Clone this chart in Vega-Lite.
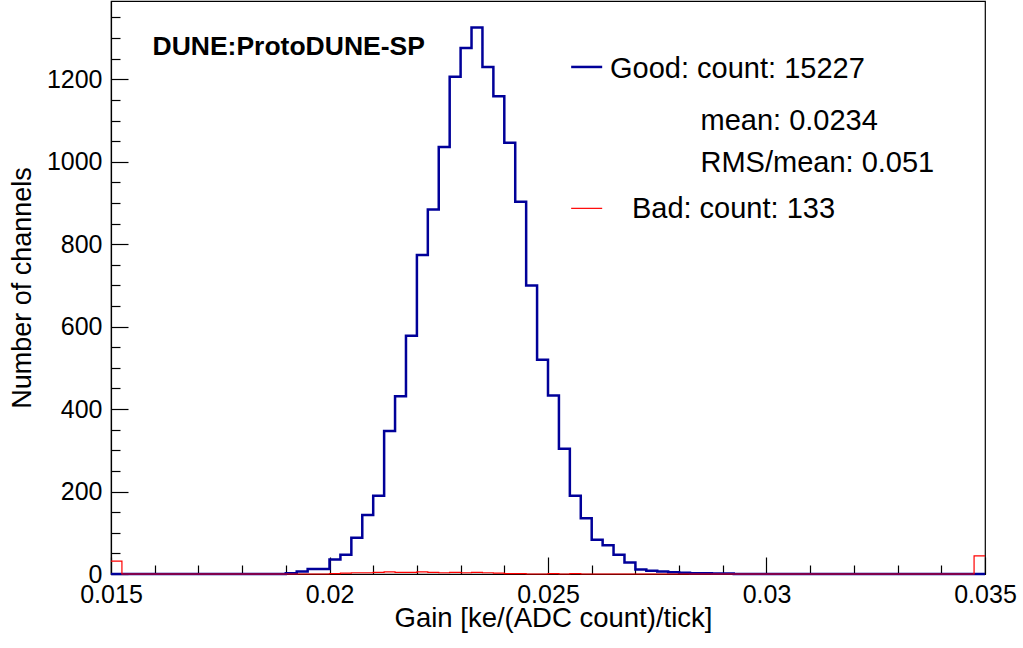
{
  "$schema": "https://vega.github.io/schema/vega-lite/v6.json",
  "width": 874,
  "height": 573,
  "autosize": {"type": "none"},
  "padding": {"left": 111, "top": 1, "right": 38, "bottom": 74},
  "background": "white",
  "config": {
    "view": {"stroke": "black", "strokeWidth": 1.2},
    "axis": {"domainColor": "black", "tickColor": "black", "labelColor": "black", "titleColor": "black", "labelFont": "Liberation Sans", "titleFont": "Liberation Sans", "titleFontWeight": "normal", "grid": false, "tickWidth": 1.2, "domainWidth": 1.2},
    "text": {"font": "Liberation Sans", "color": "black"}
  },
  "datasets": {
    "good": [
      {"gain": 0.015, "channels": 0},
      {"gain": 0.019, "channels": 2},
      {"gain": 0.01925, "channels": 6},
      {"gain": 0.0195, "channels": 12},
      {"gain": 0.01975, "channels": 12},
      {"gain": 0.02, "channels": 35},
      {"gain": 0.02025, "channels": 47},
      {"gain": 0.0205, "channels": 88},
      {"gain": 0.02075, "channels": 143},
      {"gain": 0.021, "channels": 190},
      {"gain": 0.02125, "channels": 347},
      {"gain": 0.0215, "channels": 431},
      {"gain": 0.02175, "channels": 578},
      {"gain": 0.022, "channels": 774},
      {"gain": 0.02225, "channels": 884},
      {"gain": 0.0225, "channels": 1036},
      {"gain": 0.02275, "channels": 1206},
      {"gain": 0.023, "channels": 1276},
      {"gain": 0.02325, "channels": 1326},
      {"gain": 0.0235, "channels": 1230},
      {"gain": 0.02375, "channels": 1159},
      {"gain": 0.024, "channels": 1046},
      {"gain": 0.02425, "channels": 903},
      {"gain": 0.0245, "channels": 700},
      {"gain": 0.02475, "channels": 520},
      {"gain": 0.025, "channels": 433},
      {"gain": 0.02525, "channels": 304},
      {"gain": 0.0255, "channels": 190},
      {"gain": 0.02575, "channels": 135},
      {"gain": 0.026, "channels": 83},
      {"gain": 0.02625, "channels": 70},
      {"gain": 0.0265, "channels": 47},
      {"gain": 0.02675, "channels": 28},
      {"gain": 0.027, "channels": 11},
      {"gain": 0.02725, "channels": 8},
      {"gain": 0.0275, "channels": 6},
      {"gain": 0.02775, "channels": 4},
      {"gain": 0.028, "channels": 3},
      {"gain": 0.02825, "channels": 2},
      {"gain": 0.0285, "channels": 2},
      {"gain": 0.02875, "channels": 1},
      {"gain": 0.029, "channels": 1},
      {"gain": 0.02925, "channels": 0},
      {"gain": 0.035, "channels": 0}
    ],
    "bad": [
      {"gain": 0.015, "channels": 31},
      {"gain": 0.01525, "channels": 0},
      {"gain": 0.02, "channels": 1},
      {"gain": 0.02025, "channels": 2},
      {"gain": 0.0205, "channels": 3},
      {"gain": 0.02075, "channels": 3},
      {"gain": 0.021, "channels": 4},
      {"gain": 0.02125, "channels": 5},
      {"gain": 0.0215, "channels": 4},
      {"gain": 0.02175, "channels": 4},
      {"gain": 0.022, "channels": 5},
      {"gain": 0.02225, "channels": 4},
      {"gain": 0.0225, "channels": 3},
      {"gain": 0.02275, "channels": 4},
      {"gain": 0.023, "channels": 3},
      {"gain": 0.02325, "channels": 4},
      {"gain": 0.0235, "channels": 3},
      {"gain": 0.02375, "channels": 2},
      {"gain": 0.024, "channels": 1},
      {"gain": 0.02425, "channels": 1},
      {"gain": 0.0245, "channels": 0},
      {"gain": 0.025, "channels": 1},
      {"gain": 0.02525, "channels": 0},
      {"gain": 0.0255, "channels": 1},
      {"gain": 0.02575, "channels": 0},
      {"gain": 0.03475, "channels": 44},
      {"gain": 0.035, "channels": 44}
    ],
    "one": [{}]
  },
  "resolve": {"axis": {"x": "independent", "y": "independent"}},
  "layer": [
    {
      "data": {"name": "good"},
      "mark": {"type": "line", "interpolate": "step-after", "color": "#000099", "strokeWidth": 2.5},
      "encoding": {
        "x": {"field": "gain", "type": "quantitative",
          "scale": {"domain": [0.015, 0.035], "nice": false, "zero": false},
          "axis": {"orient": "bottom", "values": [0.015, 0.02, 0.025, 0.03, 0.035], "tickSize": -17, "labelExpr": "'' + datum.value", "labelFontSize": 25, "labelPadding": 25, "labelFlush": false, "labelOverlap": false,
            "title": "Gain [ke/(ADC count)/tick]", "titleFontSize": 27.5, "titleX": 442, "titleY": 52, "titleBaseline": "alphabetic", "titleAlign": "center", "titleAnchor": null}},
        "y": {"field": "channels", "type": "quantitative",
          "scale": {"domain": [0, 1390], "nice": false, "zero": false},
          "axis": {"orient": "left", "values": [0, 200, 400, 600, 800, 1000, 1200], "tickSize": -17, "format": "d", "labelFontSize": 25, "labelPadding": 26, "labelFlush": false, "labelOverlap": false,
            "title": "Number of channels", "titleFontSize": 27, "titleX": -81, "titleBaseline": "alphabetic"}}
      }
    },
    {
      "data": {"name": "bad"},
      "mark": {"type": "line", "interpolate": "step-after", "color": "#ff0000", "strokeWidth": 1.2},
      "encoding": {
        "x": {"field": "gain", "type": "quantitative",
          "axis": {"orient": "bottom", "values": [0.016, 0.017, 0.018, 0.019, 0.021, 0.022, 0.023, 0.024, 0.026, 0.027, 0.028, 0.029, 0.031, 0.032, 0.033, 0.034], "tickSize": -9, "labels": false, "domain": false, "title": null}},
        "y": {"field": "channels", "type": "quantitative",
          "axis": {"orient": "left", "values": [50, 100, 150, 250, 300, 350, 450, 500, 550, 650, 700, 750, 850, 900, 950, 1050, 1100, 1150, 1250, 1300, 1350], "tickSize": -9, "labels": false, "domain": false, "title": null}}
      }
    },
    {
      "data": {"name": "one"},
      "mark": {"type": "rule", "color": "#000099", "strokeWidth": 2.5},
      "encoding": {
        "x": {"datum": 0.02553, "type": "quantitative", "axis": null},
        "x2": {"datum": 0.02624},
        "y": {"datum": 1230, "type": "quantitative", "axis": null}
      }
    },
    {
      "data": {"name": "one"},
      "mark": {"type": "rule", "color": "#ff0000", "strokeWidth": 1.2},
      "encoding": {
        "x": {"datum": 0.02553, "type": "quantitative", "axis": null},
        "x2": {"datum": 0.02624},
        "y": {"datum": 887, "type": "quantitative", "axis": null}
      }
    },
    {
      "data": {"name": "one"},
      "mark": {"type": "text", "text": "Good: count: 15227", "align": "left", "baseline": "alphabetic", "fontSize": 29},
      "encoding": {
        "x": {"datum": 0.02642, "type": "quantitative", "axis": null},
        "y": {"datum": 1204, "type": "quantitative", "axis": null}
      }
    },
    {
      "data": {"name": "one"},
      "mark": {"type": "text", "text": "mean: 0.0234", "align": "left", "baseline": "alphabetic", "fontSize": 29},
      "encoding": {
        "x": {"datum": 0.02849, "type": "quantitative", "axis": null},
        "y": {"datum": 1077, "type": "quantitative", "axis": null}
      }
    },
    {
      "data": {"name": "one"},
      "mark": {"type": "text", "text": "RMS/mean: 0.051", "align": "left", "baseline": "alphabetic", "fontSize": 29},
      "encoding": {
        "x": {"datum": 0.02849, "type": "quantitative", "axis": null},
        "y": {"datum": 976, "type": "quantitative", "axis": null}
      }
    },
    {
      "data": {"name": "one"},
      "mark": {"type": "text", "text": "Bad: count: 133", "align": "left", "baseline": "alphabetic", "fontSize": 29},
      "encoding": {
        "x": {"datum": 0.02692, "type": "quantitative", "axis": null},
        "y": {"datum": 863, "type": "quantitative", "axis": null}
      }
    },
    {
      "data": {"name": "one"},
      "mark": {"type": "text", "text": "DUNE:ProtoDUNE-SP", "align": "left", "baseline": "alphabetic", "fontSize": 26.5, "fontWeight": "bold"},
      "encoding": {
        "x": {"datum": 0.01595, "type": "quantitative", "axis": null},
        "y": {"datum": 1259, "type": "quantitative", "axis": null}
      }
    }
  ]
}
